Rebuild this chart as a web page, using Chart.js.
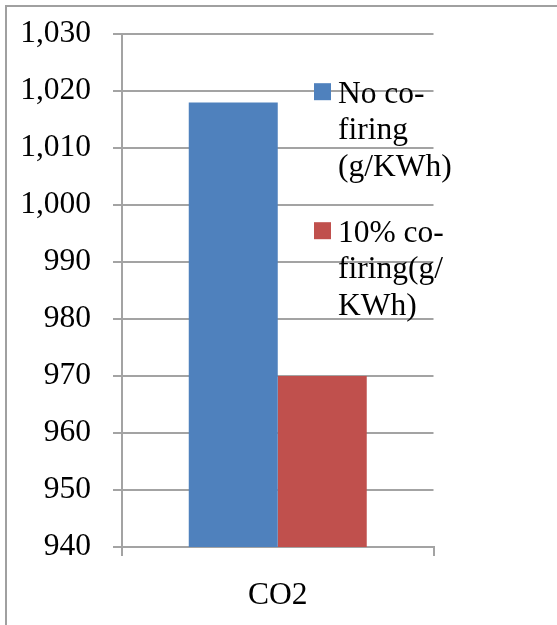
<!DOCTYPE html>
<html>
<head>
<meta charset="utf-8">
<style>
  html, body { margin: 0; padding: 0; background: #ffffff; }
  canvas { display: block; }
</style>
<script src="https://cdn.jsdelivr.net/npm/chart.js@4.4.1/dist/chart.umd.min.js"></script>
</head>
<body>
<canvas id="chart" width="557" height="625"></canvas>
<script>
// Emission data (g/KWh)
const categories = ['CO2'];
const noCofiring = [1018];
const tenPctCofiring = [970];
const seriesNames = ['No co-firing (g/KWh)', '10% co-firing(g/KWh)'];
const legendLines = [
  ['No co-', 'firing', '(g/KWh)'],
  ['10% co-', 'firing(g/', 'KWh)']
];
const yTickValues = [940, 950, 960, 970, 980, 990, 1000, 1010, 1020, 1030];

const FONT = 'Liberation Serif, Times New Roman, serif';
const GRID = '#a3a3a3';

// Frame lines along the top and left of the figure
const framePlugin = {
  id: 'frame',
  beforeDraw(chart) {
    const ctx = chart.ctx;
    ctx.save();
    ctx.strokeStyle = '#a0a0a0';
    ctx.lineWidth = 2;
    ctx.beginPath();
    ctx.moveTo(6, chart.height);
    ctx.lineTo(6, 6);
    ctx.lineTo(chart.width, 6);
    ctx.stroke();
    ctx.restore();
  }
};

// Wrapped legend drawn over the right side of the plot
const wrappedLegend = {
  id: 'wrappedLegend',
  afterDraw(chart) {
    const ctx = chart.ctx;
    const blocks = [{ top: 102.7 }, { top: 241.7 }];
    const lineStep = 36.5;
    ctx.save();
    ctx.font = '31.5px ' + FONT;
    ctx.textBaseline = 'alphabetic';
    ctx.textAlign = 'left';
    chart.data.datasets.forEach((ds, i) => {
      const base = blocks[i].top;
      ctx.fillStyle = ds.backgroundColor;
      ctx.fillRect(314, base - 19.5, 17, 17);
      ctx.fillStyle = '#000000';
      legendLines[i].forEach((line, j) => {
        ctx.fillText(line, 338, base + j * lineStep);
      });
    });
    ctx.restore();
  }
};

new Chart(document.getElementById('chart'), {
  type: 'bar',
  data: {
    labels: categories,
    datasets: [
      { label: seriesNames[0], data: noCofiring, backgroundColor: '#4F81BD', borderWidth: 0 },
      { label: seriesNames[1], data: tenPctCofiring, backgroundColor: '#C0504D', borderWidth: 0 }
    ]
  },
  options: {
    responsive: false,
    animation: false,
    events: [],
    layout: { padding: { left: 0, right: 123.5, top: 34, bottom: 0 } },
    datasets: { bar: { categoryPercentage: 0.5714, barPercentage: 1.0 } },
    plugins: {
      legend: { display: false },
      tooltip: { enabled: false },
      title: { display: false }
    },
    scales: {
      x: {
        grid: { display: true, drawOnChartArea: false, drawTicks: true, tickLength: 9, color: GRID, lineWidth: 2 },
        border: { display: true, color: GRID, width: 2 },
        ticks: { color: '#000000', padding: 21, font: { family: FONT, size: 31.5 } },
        afterFit(scale) { scale.height = 78; }
      },
      y: {
        min: 940,
        max: 1030,
        afterBuildTicks(scale) { scale.ticks = yTickValues.map(v => ({ value: v })); },
        grid: { display: true, drawOnChartArea: true, drawTicks: true, tickLength: 9, color: GRID, lineWidth: 2 },
        border: { display: true, color: GRID, width: 2 },
        ticks: {
          color: '#000000',
          padding: 22,
          font: { family: FONT, size: 31.5 },
          callback: v => Number(v).toLocaleString('en-US')
        },
        afterFit(scale) {
          scale.width = 122;
          scale.paddingTop = 0;
          scale.paddingBottom = 0;
        }
      }
    }
  },
  plugins: [framePlugin, wrappedLegend]
});
</script>
</body>
</html>
